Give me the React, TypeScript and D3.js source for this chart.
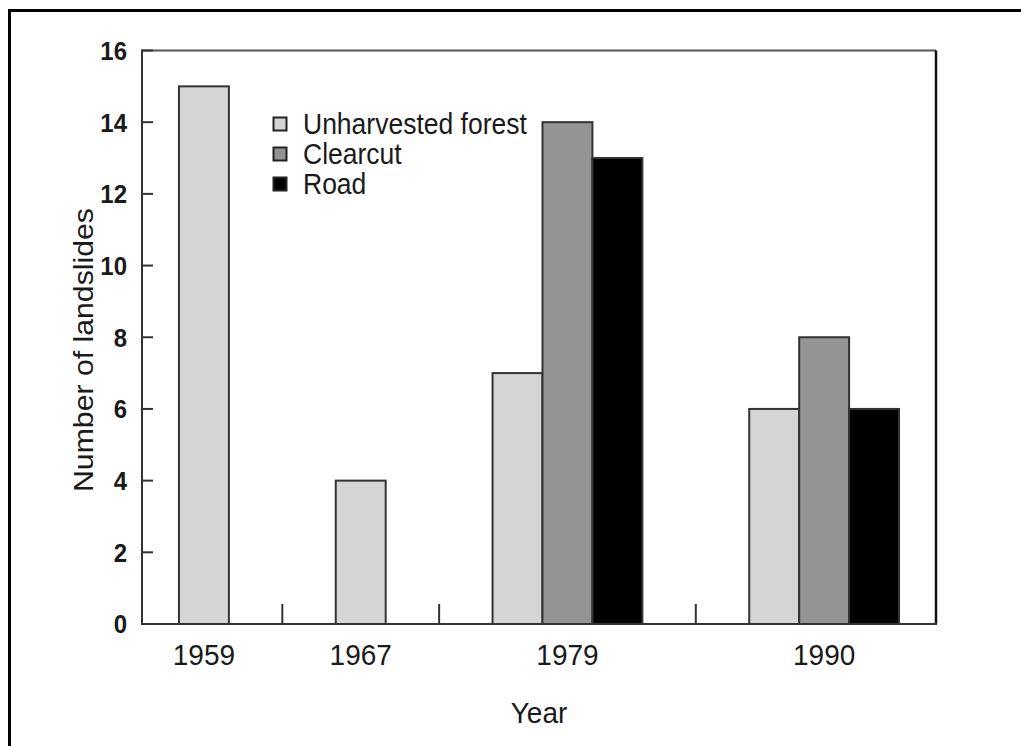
import React from 'react';
import * as d3 from 'd3';

// chart values
const years = ['1959', '1967', '1979', '1990'];
const seriesNames = ['Unharvested forest', 'Clearcut', 'Road'];
const unharvested = [15, 4, 7, 6];
const clearcut: (number | null)[] = [null, null, 14, 8];
const road: (number | null)[] = [null, null, 13, 6];
const yTicks = [0, 2, 4, 6, 8, 10, 12, 14, 16];

const seriesValues = [unharvested, clearcut, road];
const seriesFill = ['#d5d5d5', '#949494', '#000000'];

const W = 1021;
const H = 746;
const plot = { left: 142, right: 936, top: 50.5, bottom: 624 };
const FONT = '"Liberation Sans", Arial, Helvetica, sans-serif';
const STRETCH = 1.08; // the scanned figure is a little taller than wide

// group layout in "bar slots": each group takes as many slots as it has bars
const OUTER = 0.74;
const GAP = 2.14;

export default function App() {
  // build groups from the data
  const groups = years.map((year, gi) => ({
    year,
    bars: seriesValues
      .map((vals, si) => ({ si, value: vals[gi] }))
      .filter(b => b.value !== null && b.value !== undefined) as { si: number; value: number }[],
  }));

  let cursor = OUTER;
  const placed = groups.map((g, i) => {
    const start = cursor;
    cursor += g.bars.length;
    const end = cursor;
    if (i < groups.length - 1) cursor += GAP;
    return { ...g, start, end };
  });
  const totalSlots = cursor + OUTER;

  const x = d3.scaleLinear().domain([0, totalSlots]).range([plot.left, plot.right]);
  const y = d3.scaleLinear().domain([0, 16]).range([plot.bottom, plot.top]);

  const separators = placed.slice(0, -1).map((g, i) => (g.end + placed[i + 1].start) / 2);

  const txt = (px: number, py: number) => `translate(${px},${py}) scale(1,${STRETCH})`;

  return (
    <svg width={W} height={H} style={{ position: 'absolute', left: 0, top: 0, background: '#fff' }}
      fontFamily={FONT}>
      {/* outer frame, runs off the right and bottom edges */}
      <rect x={9.5} y={10.5} width={1200} height={900} fill="none" stroke="#000" strokeWidth={3} />

      {/* bars */}
      {placed.map(g => g.bars.map((b, k) => (
        <rect key={g.year + b.si}
          x={x(g.start + k)} y={y(b.value)}
          width={x(g.start + k + 1) - x(g.start + k)}
          height={y(0) - y(b.value)}
          fill={seriesFill[b.si]} stroke="#333" strokeWidth={2} />
      )))}

      {/* plot box */}
      <line x1={plot.left} x2={plot.right} y1={plot.top} y2={plot.top} stroke="#555" strokeWidth={2} />
      <line x1={plot.right} x2={plot.right} y1={plot.top} y2={plot.bottom} stroke="#111" strokeWidth={2.5} />
      <line x1={plot.left} x2={plot.left} y1={plot.top - 1} y2={plot.bottom + 1} stroke="#333" strokeWidth={2} />
      <line x1={plot.left - 1} x2={plot.right + 1} y1={plot.bottom} y2={plot.bottom} stroke="#333" strokeWidth={2} />

      {/* y ticks and labels */}
      {yTicks.map(t => (
        <g key={t}>
          <line x1={plot.left} x2={plot.left + 11} y1={y(t)} y2={y(t)} stroke="#333" strokeWidth={2} />
          <g transform={txt(127, y(t))}>
            <text textAnchor="end" dominantBaseline="central" fontSize={24} fontWeight="bold" fill="#1a1a1a">{t}</text>
          </g>
        </g>
      ))}

      {/* x separators */}
      {separators.map((s, i) => (
        <line key={i} x1={x(s)} x2={x(s)} y1={plot.bottom} y2={plot.bottom - 20} stroke="#333" strokeWidth={2} />
      ))}

      {/* x labels */}
      {placed.map(g => (
        <g key={g.year} transform={txt(x((g.start + g.end) / 2), 665)}>
          <text textAnchor="middle" fontSize={28} fill="#1a1a1a">{g.year}</text>
        </g>
      ))}

      {/* axis titles */}
      <g transform={txt((plot.left + plot.right) / 2, 723)}>
        <text textAnchor="middle" fontSize={28} fill="#1a1a1a">Year</text>
      </g>
      <g transform={`translate(93,350) scale(1,${STRETCH}) rotate(-90)`}>
        <text textAnchor="middle" fontSize={28} fill="#1a1a1a">Number of landslides</text>
      </g>

      {/* legend */}
      {seriesNames.map((name, i) => (
        <g key={name} transform={`translate(273,${124 + i * 30})`}>
          <rect x={0.5} y={-6.5} width={13} height={13} fill={seriesFill[i]} stroke="#222" strokeWidth={2} />
          <g transform={`translate(30,0) scale(1,${STRETCH})`}>
            <text dominantBaseline="central" fontSize={26.5} fill="#1a1a1a">{name}</text>
          </g>
        </g>
      ))}
    </svg>
  );
}
